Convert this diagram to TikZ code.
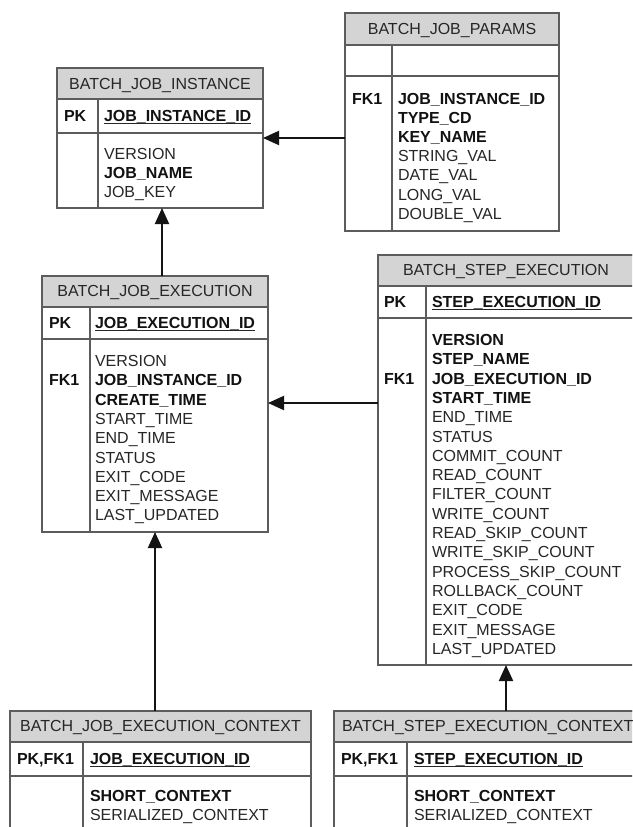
\documentclass[tikz,border=0pt]{standalone}
\usepackage{fontspec}
\setmainfont{Liberation Sans}
\usetikzlibrary{arrows.meta}
\definecolor{hdr}{HTML}{D4D4D4}
\definecolor{bord}{HTML}{5C5C5C}
\definecolor{txt}{HTML}{262626}
\definecolor{bld}{HTML}{121212}
\tikzset{
  tbl/.style={draw=bord, line width=1.5pt, fill=white, inner sep=0pt, outer sep=0pt, rectangle, anchor=north west},
  hdrbox/.style={draw=bord, line width=1.5pt, fill=hdr},
  rule/.style={draw=bord, line width=1.5pt},
  lbl/.style={anchor=base west, inner sep=0pt, outer sep=0pt, font=\fontsize{16}{19}\selectfont, text=txt},
  blbl/.style={lbl, font=\fontsize{16}{19}\selectfont\bfseries, text=bld},
  hd/.style={anchor=base, inner sep=0pt, outer sep=0pt, font=\fontsize{16}{19}\selectfont, text=txt},
  ul/.style={draw=txt, line width=1.1pt},
  fk/.style={-{Triangle[length=16pt,width=14pt]}, line width=2pt, draw=black!92}
}
\begin{document}
\begin{tikzpicture}[x=1pt,y=-1pt]
\path[use as bounding box] (0,0) rectangle (632,827);
\clip (0,0) rectangle (632,827);
\fill[white] (0,0) rectangle (632,827);

% ---------- BATCH_JOB_PARAMS ----------
\node[tbl, minimum width=214pt, minimum height=218pt] (params) at (345,13) {};
\draw[hdrbox] (345,13) rectangle (559,45);
\draw[rule] (345,76) -- (559,76);
\draw[rule] (392,45) -- (392,231);
\node[hd] (paramsh) at (452,34.5) {BATCH\_JOB\_PARAMS};
\node[blbl] (paramsk) at (352,104.5) {FK1};
\node[blbl] (pa1) at (398,104.5) {JOB\_INSTANCE\_ID};
\node[blbl] (pa2) at (398,123.6) {TYPE\_CD};
\node[blbl] (pa3) at (398,142.7) {KEY\_NAME};
\node[lbl] (pa4) at (398,161.8) {STRING\_VAL};
\node[lbl] (pa5) at (398,180.9) {DATE\_VAL};
\node[lbl] (pa6) at (398,200.0) {LONG\_VAL};
\node[lbl] (pa7) at (398,219.1) {DOUBLE\_VAL};

% ---------- BATCH_JOB_INSTANCE ----------
\node[tbl, minimum width=206pt, minimum height=140pt] (inst) at (57,68) {};
\draw[hdrbox] (57,68) rectangle (263,99);
\draw[rule] (57,133) -- (263,133);
\draw[rule] (98,99) -- (98,208);
\node[hd] (insth) at (160,89) {BATCH\_JOB\_INSTANCE};
\node[blbl] (instk) at (64,121.5) {PK};
\node[blbl] (instpk) at (104,121.5) {JOB\_INSTANCE\_ID};
\draw[ul] ([yshift=-2pt]instpk.base west) -- ([yshift=-2pt]instpk.base east);
\node[lbl] (in1) at (104,159.5) {VERSION};
\node[blbl] (in2) at (104,178.5) {JOB\_NAME};
\node[lbl] (in3) at (104,197.5) {JOB\_KEY};

% ---------- BATCH_JOB_EXECUTION ----------
\node[tbl, minimum width=226pt, minimum height=256pt] (jexec) at (42,276) {};
\draw[hdrbox] (42,276) rectangle (268,307);
\draw[rule] (42,339) -- (268,339);
\draw[rule] (90,307) -- (90,532);
\node[hd] (jexech) at (155,296.5) {BATCH\_JOB\_EXECUTION};
\node[blbl] (jexeck) at (49,328.5) {PK};
\node[blbl] (jexecpk) at (95,328.5) {JOB\_EXECUTION\_ID};
\draw[ul] ([yshift=-2pt]jexecpk.base west) -- ([yshift=-2pt]jexecpk.base east);
\node[blbl] (jexecfk) at (49,385.8) {FK1};
\node[lbl] (je1) at (95,366.5) {VERSION};
\node[blbl] (je2) at (95,385.8) {JOB\_INSTANCE\_ID};
\node[blbl] (je3) at (95,405.1) {CREATE\_TIME};
\node[lbl] (je4) at (95,424.4) {START\_TIME};
\node[lbl] (je5) at (95,443.7) {END\_TIME};
\node[lbl] (je6) at (95,463.0) {STATUS};
\node[lbl] (je7) at (95,482.3) {EXIT\_CODE};
\node[lbl] (je8) at (95,501.6) {EXIT\_MESSAGE};
\node[lbl] (je9) at (95,520.9) {LAST\_UPDATED};

% ---------- BATCH_STEP_EXECUTION ----------
\node[tbl, minimum width=256pt, minimum height=410pt] (sexec) at (378,255) {};
\draw[hdrbox] (378,255) rectangle (634,286);
\draw[rule] (378,318) -- (634,318);
\draw[rule] (426,286) -- (426,665);
\node[hd] (sexech) at (506,275.5) {BATCH\_STEP\_EXECUTION};
\node[blbl] (sexeck) at (384,307.5) {PK};
\node[blbl] (sexecpk) at (432,307.5) {STEP\_EXECUTION\_ID};
\draw[ul] ([yshift=-2pt]sexecpk.base west) -- ([yshift=-2pt]sexecpk.base east);
\node[blbl] (sexecfk) at (384,384.1) {FK1};
\node[blbl] (se1) at (432,345.5) {VERSION};
\node[blbl] (se2) at (432,364.8) {STEP\_NAME};
\node[blbl] (se3) at (432,384.1) {JOB\_EXECUTION\_ID};
\node[blbl] (se4) at (432,403.4) {START\_TIME};
\node[lbl] (se5) at (432,422.7) {END\_TIME};
\node[lbl] (se6) at (432,442.0) {STATUS};
\node[lbl] (se7) at (432,461.3) {COMMIT\_COUNT};
\node[lbl] (se8) at (432,480.6) {READ\_COUNT};
\node[lbl] (se9) at (432,499.9) {FILTER\_COUNT};
\node[lbl] (se10) at (432,519.2) {WRITE\_COUNT};
\node[lbl] (se11) at (432,538.5) {READ\_SKIP\_COUNT};
\node[lbl] (se12) at (432,557.8) {WRITE\_SKIP\_COUNT};
\node[lbl] (se13) at (432,577.1) {PROCESS\_SKIP\_COUNT};
\node[lbl] (se14) at (432,596.4) {ROLLBACK\_COUNT};
\node[lbl] (se15) at (432,615.7) {EXIT\_CODE};
\node[lbl] (se16) at (432,635.0) {EXIT\_MESSAGE};
\node[lbl] (se17) at (432,654.3) {LAST\_UPDATED};

% ---------- BATCH_JOB_EXECUTION_CONTEXT ----------
\node[tbl, minimum width=301pt, minimum height=160pt] (jctx) at (10,711) {};
\draw[hdrbox] (10,711) rectangle (311,742);
\draw[rule] (10,776) -- (311,776);
\draw[rule] (83,742) -- (83,871);
\node[hd] (jctxh) at (160.5,731.5) {BATCH\_JOB\_EXECUTION\_CONTEXT};
\node[blbl] (jctxk) at (17,764.5) {PK,FK1};
\node[blbl] (jctxpk) at (90,764.5) {JOB\_EXECUTION\_ID};
\draw[ul] ([yshift=-2pt]jctxpk.base west) -- ([yshift=-2pt]jctxpk.base east);
\node[blbl] (jc1) at (90,801.5) {SHORT\_CONTEXT};
\node[lbl] (jc2) at (90,820.8) {SERIALIZED\_CONTEXT};

% ---------- BATCH_STEP_EXECUTION_CONTEXT ----------
\node[tbl, minimum width=320pt, minimum height=160pt] (sctx) at (334,711) {};
\draw[hdrbox] (334,711) rectangle (654,742);
\draw[rule] (334,776) -- (654,776);
\draw[rule] (407,742) -- (407,871);
\node[lbl] (sctxh) at (342,731.5) {BATCH\_STEP\_EXECUTION\_CONTEXT};
\node[blbl] (sctxk) at (341,764.5) {PK,FK1};
\node[blbl] (sctxpk) at (414,764.5) {STEP\_EXECUTION\_ID};
\draw[ul] ([yshift=-2pt]sctxpk.base west) -- ([yshift=-2pt]sctxpk.base east);
\node[blbl] (sc1) at (414,801.5) {SHORT\_CONTEXT};
\node[lbl] (sc2) at (414,820.8) {SERIALIZED\_CONTEXT};

% ---------- connectors ----------
\draw[fk] (params.west |- 0,138) -- (inst.east |- 0,138);
\draw[fk] (jexec.north -| 162,0) -- (inst.south -| 162,0);
\draw[fk] (sexec.west |- 0,403) -- (jexec.east |- 0,403);
\draw[fk] (jctx.north -| 155,0) -- (jexec.south -| 155,0);
\draw[fk] (sctx.north -| 506,0) -- (sexec.south -| 506,0);
\end{tikzpicture}
\end{document}
